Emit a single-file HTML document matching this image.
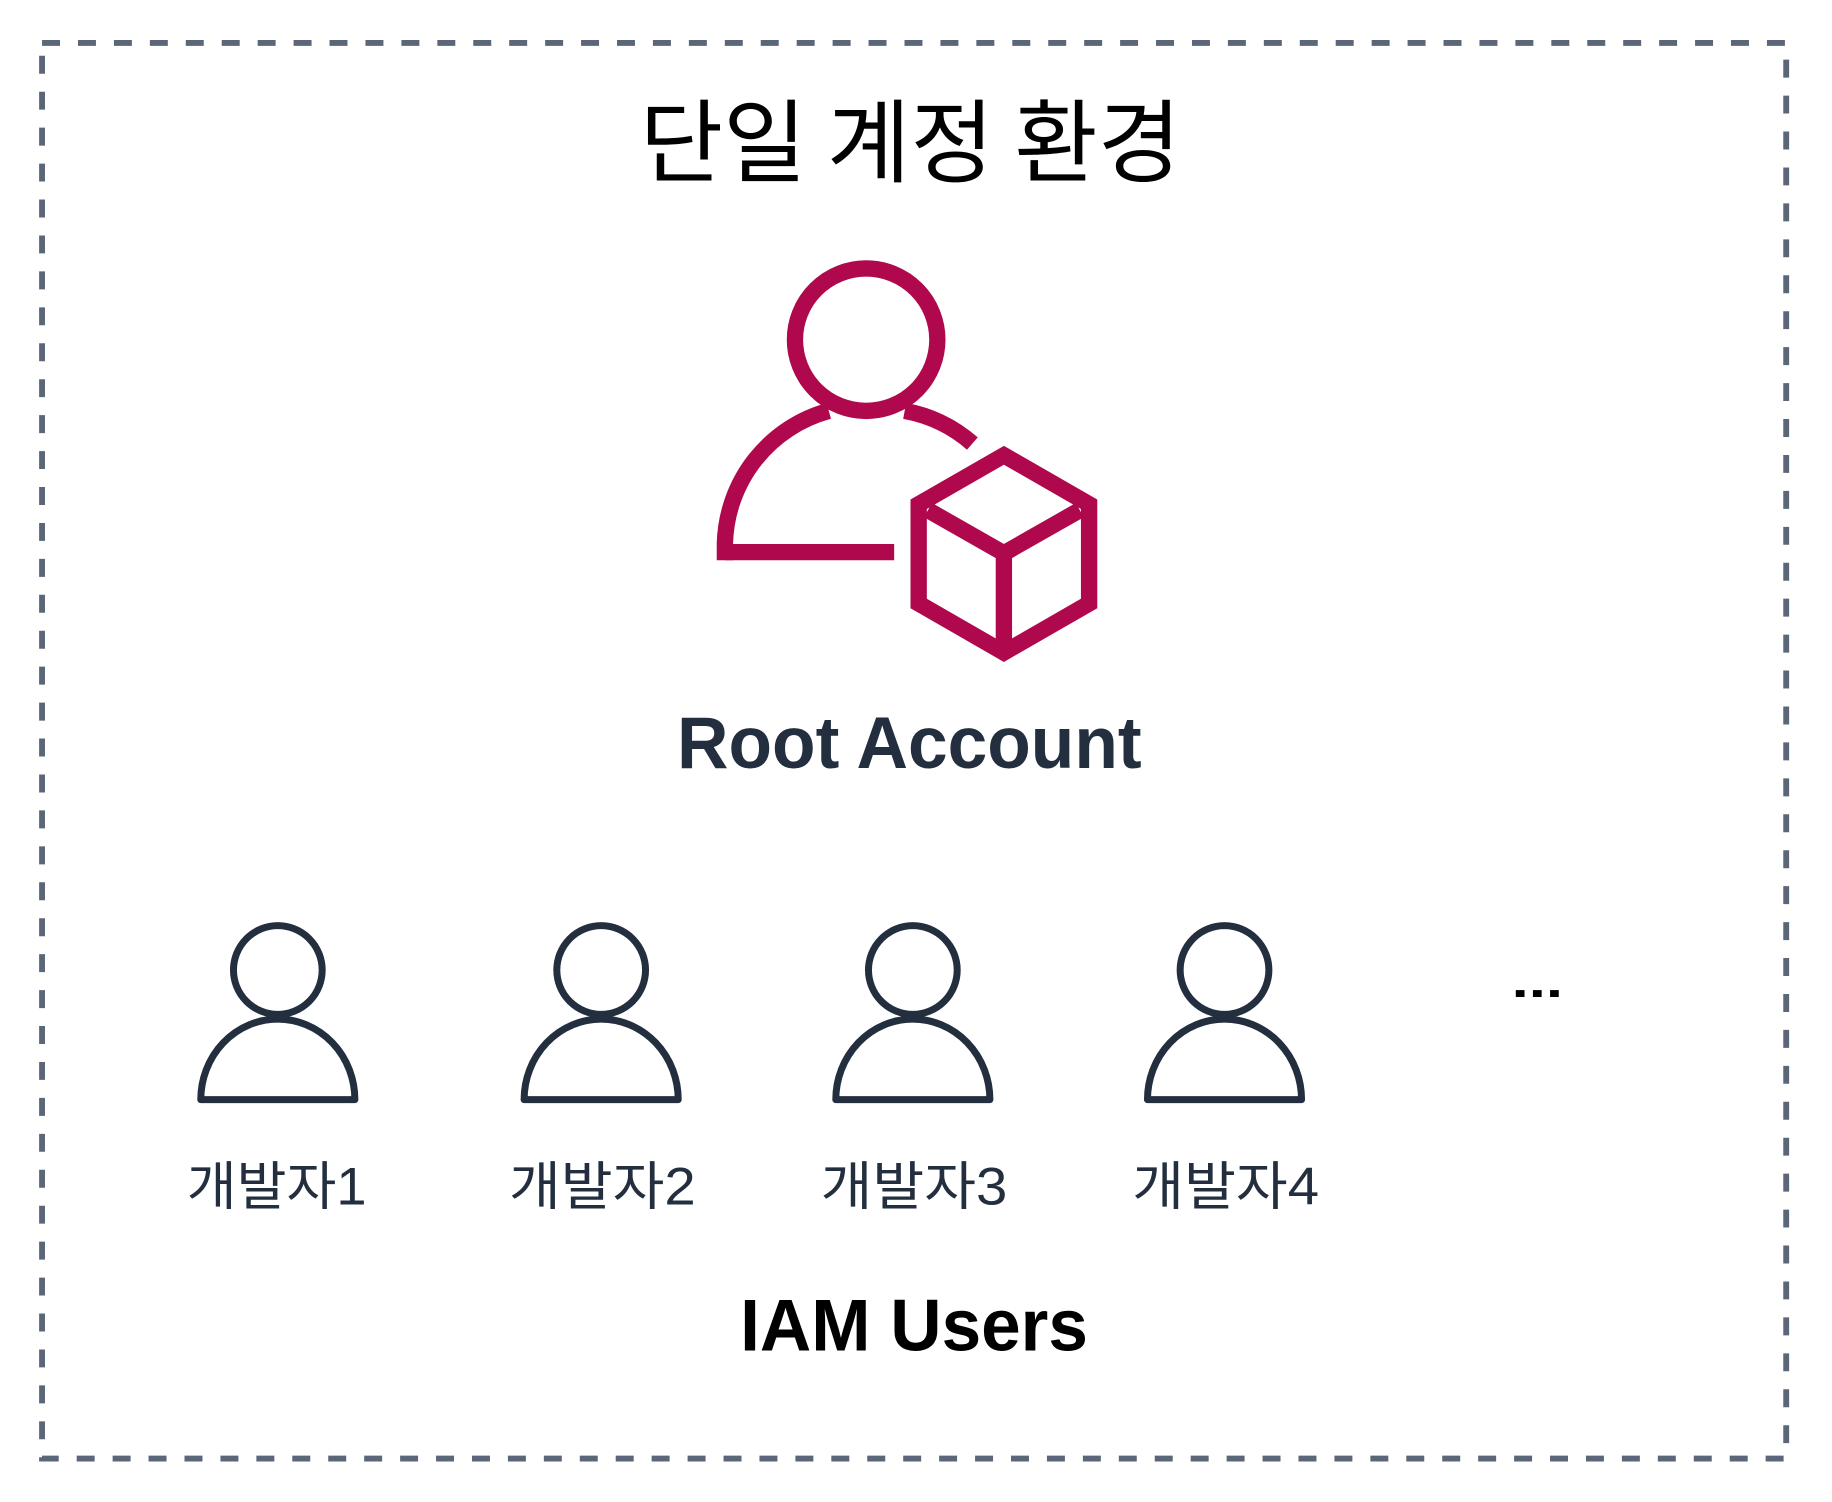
<!DOCTYPE html>
<html><head><meta charset="utf-8"><style>
html,body{margin:0;padding:0;background:#fff;}
svg{display:block;}
</style></head><body>
<svg width="1832" height="1502" viewBox="0 0 1560 1279" xmlns="http://www.w3.org/2000/svg">
<rect x="35.8" y="36.6" width="1485.2" height="1205.4" fill="none" stroke="#5b6679" stroke-width="5" stroke-dasharray="15.3 15.3"/>
<g transform="scale(0.994)">
<text x="780" y="150" text-anchor="middle" font-family="'Noto Sans CJK KR', sans-serif" font-size="78" fill="#000" textLength="464" lengthAdjust="spacingAndGlyphs">단일 계정 환경</text>
<g fill="none" stroke="#B0084D" stroke-width="14">
<circle cx="742" cy="291" r="61"/>
<path d="M621 480 L621 465 A121 121 0 0 1 710 352" />
<path d="M775 352 A121 121 0 0 1 833 380"/>
<path d="M621 473 L766 473"/>
<path d="M860 390 L933 432 L933 517 L860 559 L787 517 L787 432 Z" stroke-linejoin="miter"/>
<path d="M795 437 L860 474 L925 437 M860 474 L860 555"/>
</g>
<text x="779" y="658" text-anchor="middle" font-family="'Liberation Sans', sans-serif" font-weight="bold" font-size="63" fill="#232F3E" textLength="398" lengthAdjust="spacingAndGlyphs">Root Account</text>
<g fill="none" stroke="#232F3E" stroke-width="6" stroke-linejoin="round">
<g id="u">
<circle cx="238" cy="831" r="38"/>
<path d="M238 873 A66 69 0 0 1 304 942 L172 942 A66 69 0 0 1 238 873 Z"/>
</g>
<use href="#u" x="277"/>
<use href="#u" x="544"/>
<use href="#u" x="811"/>
</g>
<g font-family="'Liberation Sans','Noto Sans CJK KR', sans-serif" font-size="45" fill="#232F3E" text-anchor="middle">
<text x="237" y="1032" textLength="154" lengthAdjust="spacingAndGlyphs">개발자1</text>
<text x="516" y="1032" textLength="160" lengthAdjust="spacingAndGlyphs">개발자2</text>
<text x="783" y="1032" textLength="160" lengthAdjust="spacingAndGlyphs">개발자3</text>
<text x="1050" y="1032" textLength="160" lengthAdjust="spacingAndGlyphs">개발자4</text>
</g>
<text x="1317" y="854" text-anchor="middle" font-family="'Liberation Sans', sans-serif" font-weight="bold" font-size="40" fill="#000" textLength="44" lengthAdjust="spacingAndGlyphs">...</text>
<text x="783" y="1157" text-anchor="middle" font-family="'Liberation Sans', sans-serif" font-weight="bold" font-size="63" fill="#000" textLength="298" lengthAdjust="spacingAndGlyphs">IAM Users</text>
</g>
</svg>
</body></html>
